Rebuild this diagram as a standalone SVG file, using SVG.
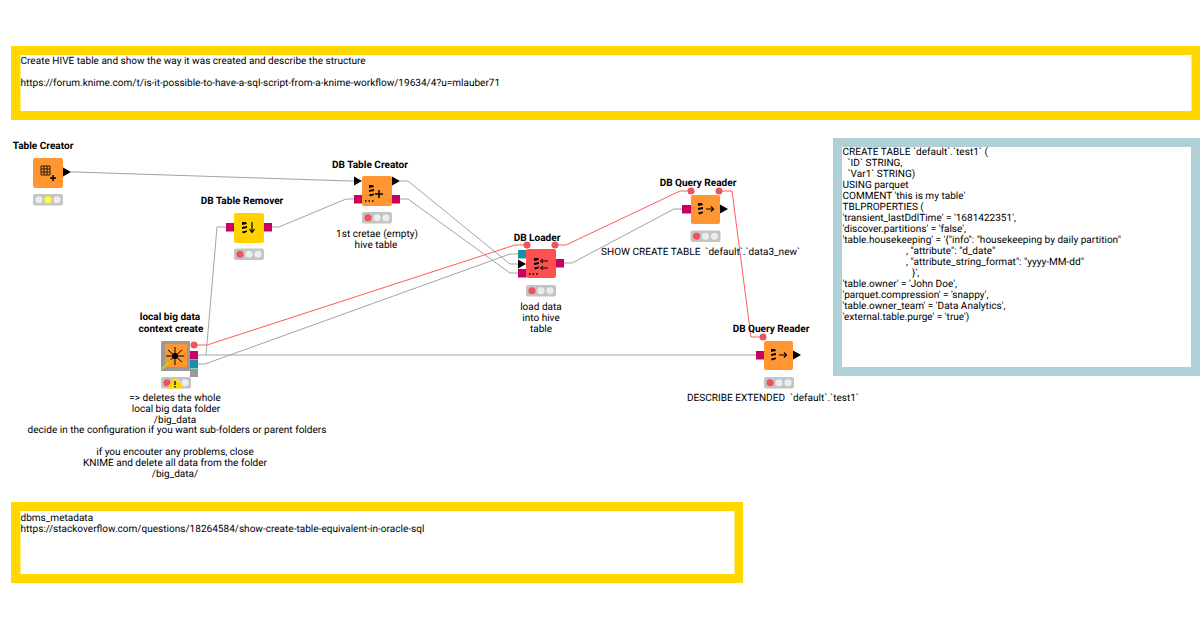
<svg xmlns="http://www.w3.org/2000/svg" width="1200" height="630" viewBox="0 0 1200 630">
<style>
text{font-family:Roboto,"Liberation Sans",sans-serif;font-size:10.05px;fill:#000;text-rendering:geometricPrecision}
.t{font-weight:700;text-anchor:middle}
.c{text-anchor:middle}
.g{fill:none;stroke:#a3a3a3;stroke-width:1}
.r{fill:none;stroke:#ff5a5f;stroke-width:1}
.o{fill:#ff9632}
.pk{fill:#c8005f}
.te{fill:#1a8fa8}
.fl{fill:#f0525a}
.st{fill:#c4c4c4}
.off{fill:#ececec}
.ar{fill:#000}
.ic{fill:none;stroke:#000;stroke-width:1.2}
</style>
<defs>
<g id="lights"><rect width="30" height="11.500" rx="2" class="st"/><circle cx="6" cy="5.750" r="3.600" class="fl"/><circle cx="15" cy="5.750" r="3.600" class="off"/><circle cx="24" cy="5.750" r="3.600" class="off"/></g>
<path id="arrow" d="M0-4.500 8 0 0 4.500Z" class="ar"/>
<g id="db"><path d="M0 0h4l1 2-5 1zM0 5l5-1v2l-5 1zM0 9.500l5-1v1.500l-4 1.500z" fill="#000"/></g>
</defs>
<g id="note-top"><rect x="11" y="46" width="1189" height="74" fill="#ffd800"/><rect x="20.500" y="55" width="1171" height="56" fill="#fff"/>
<text x="20.500" y="64">Create HIVE table and show the way it was created and describe the structure</text>
<text x="20.500" y="86">https://forum.knime.com/t/is-it-possible-to-have-a-sql-script-from-a-knime-workflow/19634/4?u=mlauber71</text></g>
<g id="note-bottom"><rect x="11" y="502" width="732" height="81" fill="#ffd800"/><rect x="20.500" y="511" width="714" height="63" fill="#fff"/>
<text x="20.500" y="520.500">dbms_metadata</text><text x="20.500" y="531.500">https://stackoverflow.com/questions/18264584/show-create-table-equivalent-in-oracle-sql</text></g>
<g id="note-sql"><rect x="833" y="138" width="367" height="238" fill="#b0d0d8"/><rect x="842" y="147" width="349" height="220" fill="#fff"/>
<text xml:space="preserve"><tspan x="842.500" y="155">CREATE TABLE `default`.`test1` (</tspan><tspan x="842.500" dy="11">  `ID` STRING,</tspan><tspan x="842.500" dy="11">  `Var1` STRING)</tspan><tspan x="842.500" dy="11">USING parquet</tspan><tspan x="842.500" dy="11">COMMENT 'this is my table'</tspan><tspan x="842.500" dy="11">TBLPROPERTIES (</tspan><tspan x="842.500" dy="11">'transient_lastDdlTime' = '1681422351',</tspan><tspan x="842.500" dy="11">'discover.partitions' = 'false',</tspan><tspan x="842.500" dy="11">'table.housekeeping' = '{"info": "housekeeping by daily partition"</tspan><tspan x="906" dy="11">, "attribute": "d_date"</tspan><tspan x="906" dy="11">, "attribute_string_format": "yyyy-MM-dd"</tspan><tspan x="912" dy="11">}',</tspan><tspan x="842.500" dy="11">'table.owner' = 'John Doe',</tspan><tspan x="842.500" dy="11">'parquet.compression' = 'snappy',</tspan><tspan x="842.500" dy="11">'table.owner_team' = 'Data Analytics',</tspan><tspan x="842.500" dy="11">'external.table.purge' = 'true')</tspan></text></g>
<g id="connectors">
<path class="g" d="M71 172 75 172 350 181 354 181"/>
<path class="g" d="M198 355H756"/>
<path class="g" d="M206 355 217 227H226"/>
<path class="g" d="M198 364H205L510 254H518"/>
<path class="g" d="M272 227H279L346 199H354"/>
<path class="g" d="M400 181H408L510 264H518"/>
<path class="g" d="M400 199H408L510 273H518"/>
<path class="g" d="M564 263H572L674 209H682"/>
<path class="r" d="M194 345H207L515 245H527"/>
<path class="r" d="M555 245H566L680 191H691"/>
<path class="r" d="M719 191H732L751 337H763"/>
</g>
<g id="n-table-creator"><text class="t" x="43" y="149">Table Creator</text><rect x="33" y="158" width="30" height="30" rx="2" class="o"/>
<path class="ic" d="M41 166h9v9h-9zM41 169h9M41 172h9M44 166v9M47 166v9" style="stroke-width:.8"/><path d="M50 178h6M53 175v6" stroke="#000" stroke-width="1.500"/>
<use href="#arrow" x="63" y="172"/><rect x="33" y="194" width="30" height="11.500" rx="2" class="st"/><circle cx="39" cy="199.750" r="3.600" class="off"/><circle cx="48" cy="199.750" r="3.600" fill="#ffff32"/><circle cx="57" cy="199.750" r="3.600" class="off"/></g>
<g id="n-db-table-remover"><text class="t" x="242" y="204">DB Table Remover</text><rect x="234" y="213" width="30" height="30" rx="2" fill="#ffd200"/>
<rect x="226" y="223" width="8" height="8.500" class="pk"/><rect x="264" y="223" width="8" height="8.500" class="pk"/><use href="#db" x="242" y="222"/><path d="M252 222v10M249.500 229l2.500 3.500 2.500-3.500" class="ic"/><use href="#lights" x="234" y="248.500"/></g>
<g id="n-db-table-creator"><text class="t" x="370" y="168">DB Table Creator</text><rect x="362" y="176" width="30" height="30" rx="2" class="o"/>
<use href="#arrow" x="354" y="181"/><use href="#arrow" x="392" y="181"/><rect x="354" y="195" width="8" height="8.500" class="pk"/><rect x="392" y="195" width="8" height="8.500" class="pk"/><use href="#db" x="369" y="185"/><path d="M375 194h8M379 190v8" stroke="#000" stroke-width="1.500"/><path d="M365 201h9" stroke="#000" stroke-dasharray="1.500 2" stroke-width="1.500"/><use href="#lights" x="362" y="212"/>
<text class="c" x="377" y="237">1st cretae (empty)</text><text class="c" x="376" y="248">hive table</text></g>
<g id="n-local-big-data"><text class="t" x="170" y="320">local big data</text><text class="t" x="171" y="332">context create</text><rect x="161" y="341" width="29" height="30" rx="1" fill="#999"/><rect x="165" y="344" width="22" height="23" class="o"/>
<path d="M168 350 182 362M168 362 182 350M175 347v18M166 356h18" stroke="#000" stroke-width="1"/><circle cx="175" cy="356" r="3" fill="#000"/><path d="M162 369 171 360" stroke="#a8e020" stroke-width="1.800"/>
<circle cx="194" cy="345" r="3.500" class="fl"/><rect x="190" y="351" width="8" height="8.500" class="pk"/><rect x="190" y="360" width="8" height="8.500" class="te"/><rect x="190" y="369" width="8" height="8" fill="#999"/><use href="#lights" x="161" y="377"/><path d="M175 378 183 388H167Z" fill="#ffd800" stroke="#ffd800"/><path d="M175 381v4M175 386v1.500" stroke="#000" stroke-width="1.300"/></g>
<text id="local-note-1" class="c" x="175" y="401.300">=&gt; deletes the whole</text><text id="local-note-2" class="c" x="176" y="412.300">local big data folder</text><text id="local-note-3" class="c" x="175" y="423.300">/big_data</text><text id="local-note-4" class="c" x="177" y="433.300">decide in the configuration if you want sub-folders or parent folders</text><text id="local-note-5" class="c" x="175" y="455.300">if you encouter any problems, close</text><text id="local-note-6" class="c" x="175" y="466.300">KNIME and delete all data from the folder</text><text id="local-note-7" class="c" x="175" y="477.300">/big_data/</text>
<g id="n-db-loader"><text class="t" x="537" y="241">DB Loader</text><rect x="526" y="249" width="30" height="29" rx="2" fill="#ff5050"/>
<rect x="518" y="250" width="8" height="8.500" class="te"/><rect x="518" y="259.500" width="8" height="9" fill="#fff"/><use href="#arrow" x="518" y="264"/><rect x="518" y="269" width="8" height="8.500" class="pk"/><rect x="556" y="259" width="8" height="8.500" class="pk"/><circle cx="527" cy="245" r="3.500" class="fl"/><circle cx="555" cy="245" r="3.500" class="fl"/><use href="#db" x="534" y="258"/><path d="M541 261h7M541 268h7M543 259l-2.500 2 2.500 2M543 266l-2.500 2 2.500 2" fill="none" stroke="#000"/><path d="M529 274h9" stroke="#000" stroke-dasharray="1.500 2" stroke-width="1.500"/><use href="#lights" x="526" y="285"/>
<text class="c" x="541" y="310">load data</text><text class="c" x="541" y="321">into hive</text><text class="c" x="541" y="332">table</text></g>
<g id="n-db-query-reader-1"><text class="t" x="698" y="186">DB Query Reader</text><rect x="691" y="195" width="29" height="29" rx="2" class="o"/>
<rect x="682" y="205" width="9" height="8.500" class="pk"/><use href="#arrow" x="720" y="209"/><circle cx="691" cy="191" r="3.500" class="fl"/><circle cx="719" cy="191" r="3.500" class="fl"/><use href="#db" x="698" y="203"/><path d="M706 209h7M711 206.500l2.500 2.500-2.500 2.500" class="ic"/><use href="#lights" x="690.500" y="230.500"/>
<text xml:space="preserve" x="601" y="255">SHOW CREATE TABLE  `default`.`data3_new`</text></g>
<g id="n-db-query-reader-2"><text class="t" x="771" y="332">DB Query Reader</text><rect x="764" y="341" width="29" height="29" rx="2" class="o"/>
<rect x="756" y="351" width="8" height="8.500" class="pk"/><use href="#arrow" x="793" y="355"/><circle cx="763" cy="337" r="3.500" class="fl"/><use href="#db" x="771" y="349"/><path d="M779 355h7M784 352.500l2.500 2.500-2.500 2.500" class="ic"/><use href="#lights" x="764" y="377"/>
<text xml:space="preserve" x="687" y="401">DESCRIBE EXTENDED  `default`.`test1`</text></g>
</svg>
